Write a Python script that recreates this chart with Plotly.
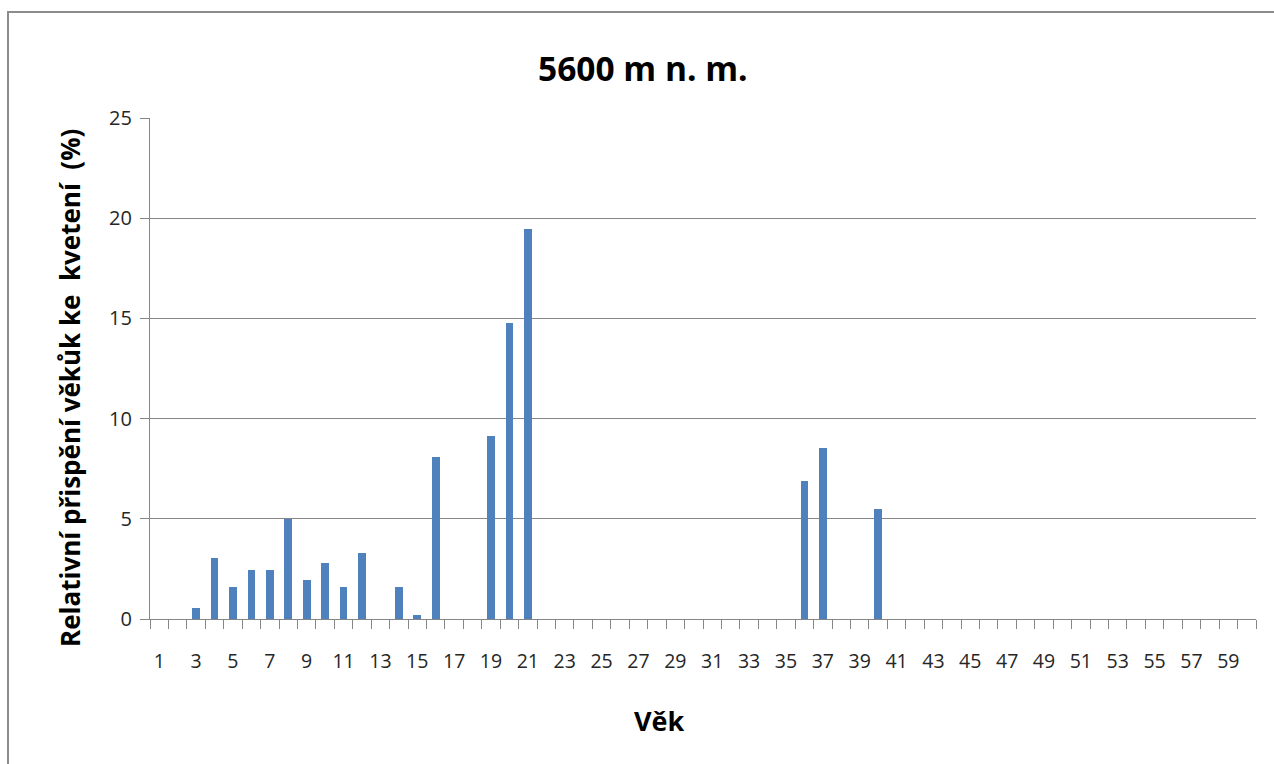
import plotly.graph_objects as go

# Age categories 1..60 and their relative contribution to flowering (%)
ages = list(range(1, 61))
contrib_by_age = {
    3: 0.53, 4: 3.02, 5: 1.58, 6: 2.43, 7: 2.43, 8: 4.98, 9: 1.93, 10: 2.77,
    11: 1.58, 12: 3.28, 14: 1.58, 15: 0.18, 16: 8.06, 19: 9.15, 20: 14.76,
    21: 19.48, 36: 6.89, 37: 8.55, 40: 5.50,
}
values = [contrib_by_age.get(a, 0) for a in ages]
tick_labels = [str(a) for a in ages if a % 2 == 1]
tick_positions = [a for a in ages if a % 2 == 1]
y_ticks = [0, 5, 10, 15, 20, 25]

title_text = "5600 m n. m."
x_title = "Věk"
y_title = "Relativní přispění věkůk ke\u00a0 kvetení\u00a0 (%)"

BAR = "#4F81BD"
GRID = "#868686"
FONT = "Open Sans"

fig = go.Figure(
    go.Bar(x=ages, y=values, width=0.42, marker=dict(color=BAR, line=dict(width=0)))
)

fig.update_layout(
    width=1274, height=764,
    margin=dict(l=150, r=18, t=118, b=145),
    paper_bgcolor="white", plot_bgcolor="white",
    showlegend=False,
    font=dict(family=FONT, color="#262626"),
    bargap=0,
)

fig.update_xaxes(
    range=[0.5, 60.5],
    tickmode="array", tickvals=tick_positions, ticktext=tick_labels,
    ticks="", tickfont=dict(size=19.5, color="#262626"),
    ticklabelstandoff=24,
    showline=True, linecolor=GRID, linewidth=1.3,
    showgrid=False, zeroline=False,
    minor=dict(tick0=0.5, dtick=1, ticks="outside", ticklen=9,
               tickcolor=GRID, tickwidth=1.2, showgrid=False),
)
fig.update_yaxes(
    range=[0, 25], tickmode="array", tickvals=y_ticks,
    ticks="outside", ticklen=9, tickcolor=GRID, tickwidth=1.2,
    tickfont=dict(size=20, color="#262626"),
    ticklabelstandoff=4,
    showline=True, linecolor=GRID, linewidth=1.3,
    showgrid=True, gridcolor=GRID, gridwidth=1.2,
    zeroline=False,
)

# chart title and axis titles
fig.add_annotation(text=f"<b>{title_text}</b>", xref="paper", yref="paper",
                   x=(643 - 150) / 1106, y=1 + (118 - 68) / 501,
                   showarrow=False, font=dict(size=33.5, color="black", family=FONT),
                   xanchor="center", yanchor="middle")
fig.add_annotation(text=f"<b>{x_title}</b>", xref="paper", yref="paper",
                   x=(659 - 150) / 1106, y=-(720 - 619) / 501,
                   showarrow=False, font=dict(size=27, color="black", family=FONT),
                   xanchor="center", yanchor="middle")
fig.add_annotation(text=f"<b>{y_title}</b>", xref="paper", yref="paper",
                   x=-(150 - 70) / 1106, y=(619 - 388) / 501, textangle=-90,
                   showarrow=False, font=dict(size=26, color="black", family=FONT),
                   xanchor="center", yanchor="middle")

# outer chart-area border
fig.add_shape(type="rect", xref="paper", yref="paper",
              x0=-(150 - 8) / 1106, x1=1 + 40 / 1106,
              y0=-(200) / 501, y1=1 + (118 - 12) / 501,
              line=dict(color="#8C8C8C", width=2), layer="below")

fig.write_html("out.html")
